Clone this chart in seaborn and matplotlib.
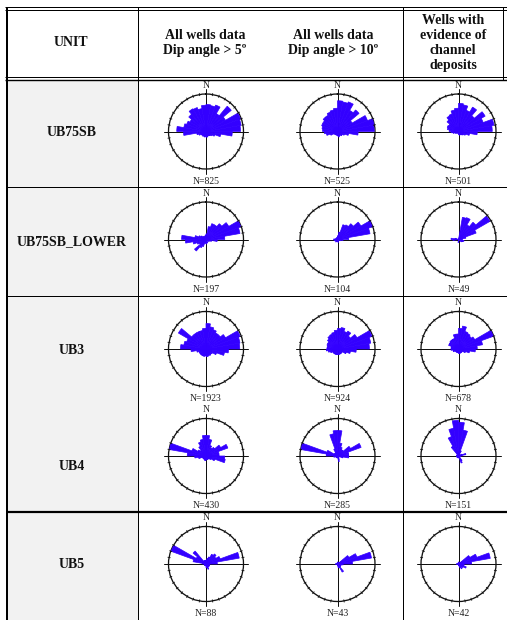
import numpy as np
import matplotlib
matplotlib.use("Agg")
import matplotlib.pyplot as plt
import seaborn as sns

sns.set_theme(style="white")
plt.rcParams["font.family"] = ["Liberation Serif", "DejaVu Serif"]

PETAL = "#3300ff"
CELL_GREY = "#f2f2f2"

# ---- table content -------------------------------------------------------
units = ["UB75SB", "UB75SB_LOWER", "UB3", "UB4", "UB5"]
headers = [
    "UNIT",
    "All wells data\nDip angle > 5º",
    "All wells data\nDip angle > 10º",
    "Wells with\nevidence of\nchannel\ndeposits",
]
# number of dip measurements behind each rose (dip>5, dip>10, channel wells)
counts_ub75sb = [825, 525, 501]
counts_lower = [197, 104, 49]
counts_ub3 = [1923, 924, 678]
counts_ub4 = [430, 285, 151]
counts_ub5 = [88, 43, 42]

# 10-degree azimuth classes (0-10, 10-20, ... 350-360)
bin_centres = np.arange(5, 360, 10)

# petal length per class, relative to the outer circle
ub75sb_dip5 = [0.72, 0.70, 0.75, 0.55, 0.88, 0.60, 0.98, 0.95, 0.92, 0.70,
               0.40, 0.25, 0.18, 0.15, 0.13, 0.13, 0.15, 0.15, 0.13, 0.15,
               0.13, 0.15, 0.13, 0.15, 0.20, 0.25, 0.60, 0.78, 0.60, 0.55,
               0.50, 0.60, 0.70, 0.68, 0.62, 0.70]
ub75sb_dip10 = [0.82, 0.80, 0.84, 0.65, 0.75, 0.45, 0.85, 1.00, 0.98, 0.55,
                0.30, 0.20, 0.15, 0.15, 0.12, 0.12, 0.15, 0.12, 0.10, 0.10,
                0.10, 0.10, 0.10, 0.12, 0.20, 0.30, 0.35, 0.40, 0.42, 0.45,
                0.45, 0.50, 0.50, 0.55, 0.58, 0.62]
ub75sb_channel = [0.75, 0.72, 0.60, 0.75, 0.55, 0.82, 0.70, 0.96, 0.90, 0.50,
                  0.30, 0.20, 0.15, 0.12, 0.10, 0.10, 0.10, 0.08, 0.05, 0.05,
                  0.05, 0.05, 0.05, 0.08, 0.10, 0.15, 0.20, 0.25, 0.30, 0.32,
                  0.30, 0.40, 0.48, 0.50, 0.58, 0.62]

lower_dip5 = [0.15, 0.35, 0.45, 0.45, 0.55, 0.70, 1.00, 0.92, 0.50, 0.30,
              0.15, 0.10, 0.08, 0.05, 0.05, 0.10, 0.08, 0.12, 0.10, 0.10,
              0.20, 0.25, 0.40, 0.20, 0.25, 0.35, 0.55, 0.65, 0.30, 0.20,
              0.15, 0.10, 0.10, 0.08, 0.10, 0.12]
lower_dip10 = [0.10, 0.20, 0.42, 0.45, 0.55, 0.72, 1.00, 0.88, 0.30, 0.15,
               0.10, 0.05, 0.05, 0.05, 0.05, 0.05, 0.08, 0.05, 0.05, 0.05,
               0.05, 0.08, 0.05, 0.05, 0.08, 0.08, 0.10, 0.10, 0.05, 0.05,
               0.05, 0.05, 0.05, 0.05, 0.05, 0.05]
lower_channel = [0.00, 0.60, 0.62, 0.45, 0.60, 0.97, 0.50, 0.20, 0.10, 0.10,
                 0.15, 0.12, 0.10, 0.00, 0.00, 0.00, 0.00, 0.00, 0.08, 0.00,
                 0.00, 0.00, 0.00, 0.00, 0.00, 0.00, 0.15, 0.20, 0.10, 0.00,
                 0.00, 0.00, 0.00, 0.00, 0.00, 0.00]

ub3_dip5 = [0.68, 0.60, 0.55, 0.50, 0.50, 0.60, 0.97, 0.92, 0.90, 0.60,
            0.50, 0.30, 0.20, 0.18, 0.20, 0.18, 0.20, 0.20, 0.18, 0.20,
            0.20, 0.20, 0.20, 0.20, 0.20, 0.25, 0.40, 0.68, 0.60, 0.55,
            0.85, 0.50, 0.50, 0.50, 0.50, 0.55]
ub3_dip10 = [0.55, 0.58, 0.50, 0.55, 0.45, 0.60, 0.98, 0.90, 0.85, 0.50,
             0.35, 0.25, 0.15, 0.15, 0.15, 0.15, 0.15, 0.15, 0.15, 0.15,
             0.15, 0.15, 0.15, 0.15, 0.20, 0.25, 0.30, 0.28, 0.28, 0.30,
             0.30, 0.35, 0.40, 0.42, 0.45, 0.50]
ub3_channel = [0.55, 0.62, 0.50, 0.48, 0.45, 0.50, 1.00, 0.65, 0.50, 0.45,
               0.30, 0.20, 0.12, 0.12, 0.12, 0.12, 0.12, 0.12, 0.10, 0.10,
               0.10, 0.10, 0.10, 0.10, 0.15, 0.15, 0.20, 0.20, 0.20, 0.28,
               0.28, 0.30, 0.30, 0.30, 0.40, 0.40]

ub4_dip5 = [0.55, 0.45, 0.30, 0.25, 0.30, 0.45, 0.62, 0.35, 0.35, 0.50,
            0.52, 0.25, 0.15, 0.10, 0.10, 0.10, 0.10, 0.10, 0.12, 0.12,
            0.10, 0.10, 0.10, 0.10, 0.10, 0.20, 0.30, 0.50, 1.00, 0.40,
            0.25, 0.20, 0.30, 0.40, 0.45, 0.55]
ub4_dip10 = [0.68, 0.35, 0.25, 0.20, 0.20, 0.40, 0.67, 0.30, 0.30, 0.30,
             0.15, 0.05, 0.05, 0.05, 0.05, 0.10, 0.15, 0.05, 0.05, 0.05,
             0.05, 0.05, 0.05, 0.05, 0.05, 0.10, 0.10, 0.30, 1.00, 0.30,
             0.10, 0.10, 0.10, 0.20, 0.60, 0.68]
ub4_channel = [0.90, 0.70, 0.15, 0.05, 0.05, 0.05, 0.10, 0.20, 0.10, 0.05,
               0.05, 0.05, 0.05, 0.05, 0.15, 0.20, 0.05, 0.05, 0.05, 0.05,
               0.05, 0.05, 0.05, 0.05, 0.05, 0.05, 0.05, 0.05, 0.05, 0.05,
               0.05, 0.05, 0.30, 0.55, 0.75, 0.95]

ub5_dip5 = [0.10, 0.15, 0.20, 0.30, 0.35, 0.30, 0.40, 0.90, 0.30, 0.10,
            0.10, 0.10, 0.10, 0.10, 0.10, 0.15, 0.10, 0.10, 0.05, 0.05,
            0.05, 0.05, 0.05, 0.05, 0.05, 0.05, 0.05, 0.10, 0.35, 1.00,
            0.30, 0.45, 0.10, 0.10, 0.10, 0.10]
ub5_dip10 = [0.05, 0.05, 0.05, 0.05, 0.05, 0.35, 0.55, 0.92, 0.40, 0.15,
             0.10, 0.10, 0.10, 0.10, 0.25, 0.10, 0.10, 0.05, 0.00, 0.00,
             0.00, 0.00, 0.00, 0.00, 0.00, 0.00, 0.05, 0.05, 0.00, 0.00,
             0.00, 0.00, 0.00, 0.00, 0.00, 0.05]
ub5_channel = [0.05, 0.05, 0.05, 0.05, 0.05, 0.35, 0.52, 0.86, 0.35, 0.15,
               0.15, 0.22, 0.15, 0.10, 0.15, 0.10, 0.05, 0.05, 0.00, 0.00,
               0.00, 0.00, 0.00, 0.00, 0.00, 0.00, 0.05, 0.05, 0.00, 0.00,
               0.00, 0.00, 0.00, 0.00, 0.00, 0.05]

rose_rows = [
    [ub75sb_dip5, ub75sb_dip10, ub75sb_channel],
    [lower_dip5, lower_dip10, lower_channel],
    [ub3_dip5, ub3_dip10, ub3_channel],
    [ub4_dip5, ub4_dip10, ub4_channel],
    [ub5_dip5, ub5_dip10, ub5_channel],
]
count_rows = [counts_ub75sb, counts_lower, counts_ub3, counts_ub4, counts_ub5]

# ---- layout (pixels, origin top-left) ------------------------------------
W, H = 507, 620
col_x = [206, 337.5, 458.5]
row_y = [131.5, 239.5, 349, 456, 564]
unit_y = [133, 242, 351, 466, 565]
R = 37.5
PX = 0.72  # points per pixel at 100 dpi

fig = plt.figure(figsize=(W / 100, H / 100), dpi=100)
fig.patch.set_facecolor("white")

tab = fig.add_axes([0, 0, 1, 1])
tab.set_xlim(0, W)
tab.set_ylim(H, 0)
tab.axis("off")

# grey unit column
tab.fill_between([7, 138], 80, H, color=CELL_GREY, lw=0, zorder=0)

# rules of the table
tab.hlines([7.0, 9.8], 5, W, color="black", linewidth=1.0 * PX)
tab.hlines([77.2, 79.8], 5, W, color="black", linewidth=[1.0 * PX, 1.4 * PX])
tab.hlines([186.5, 295.5], 7, W, color="black", linewidth=1.0 * PX)
tab.hlines([511.5], 7, W, color="black", linewidth=2.2 * PX)
tab.vlines([7.2], 7, H, color="black", linewidth=2.0 * PX)
tab.vlines([138.3, 403.0], 7, H, color="black", linewidth=1.0 * PX)
tab.vlines([502.5], 7, 80, color="black", linewidth=1.0 * PX)

head_font = dict(fontsize=10, fontweight="bold", color="#111111",
                 ha="center", va="center", linespacing=1.2)
tab.text(71, 43, headers[0], **head_font)
tab.text(205, 43, headers[1], **head_font)
tab.text(333, 43, headers[2], **head_font)
tab.text(453, 43, headers[3], **head_font)

for name, y in zip(units, unit_y):
    tab.text(72, y, name, **head_font)

small_font = dict(fontsize=7, color="#222222", ha="center", va="center")

theta = np.deg2rad(bin_centres)
tick_theta = np.deg2rad(np.arange(0, 360, 10))

for cy, petal_row, n_row in zip(row_y, rose_rows, count_rows):
    for cx, petals, n in zip(col_x, petal_row, n_row):
        ax = fig.add_axes([(cx - R) / W, 1 - (cy + R) / H, 2 * R / W, 2 * R / H],
                          projection="polar")
        ax.patch.set_facecolor("none")

        # cross through the centre, slightly beyond the circle
        ax.plot([np.pi / 2, 0, 3 * np.pi / 2], [1.12, 0, 1.12],
                color="#111111", lw=1.0 * PX, clip_on=False, zorder=1)
        ax.plot([0, 0, np.pi], [1.13, 0, 1.13],
                color="#111111", lw=1.0 * PX, clip_on=False, zorder=1)

        sns.barplot(x=theta, y=petals, native_scale=True, width=1.0,
                    color=PETAL, saturation=1, errorbar=None,
                    edgecolor=PETAL, linewidth=0.5, ax=ax, zorder=3)

        # 10-degree tick marks on the rim
        ax.vlines(tick_theta, 0.96, 1.04, color="#111111",
                  lw=0.6, clip_on=False, zorder=4)

        ax.set_theta_zero_location("N")
        ax.set_theta_direction(-1)
        ax.set_ylim(0, 1)
        ax.set_xticks([])
        ax.set_yticks([])
        ax.grid(False)
        ax.set_xlabel("")
        ax.set_ylabel("")
        ax.spines["polar"].set_color("#111111")
        ax.spines["polar"].set_linewidth(1.3 * PX)

        tab.text(cx, cy - 46.5, "N", **small_font)
        tab.text(cx, cy + 49.5, f"N={n}", **small_font)

fig.savefig("out.png", dpi=100)
